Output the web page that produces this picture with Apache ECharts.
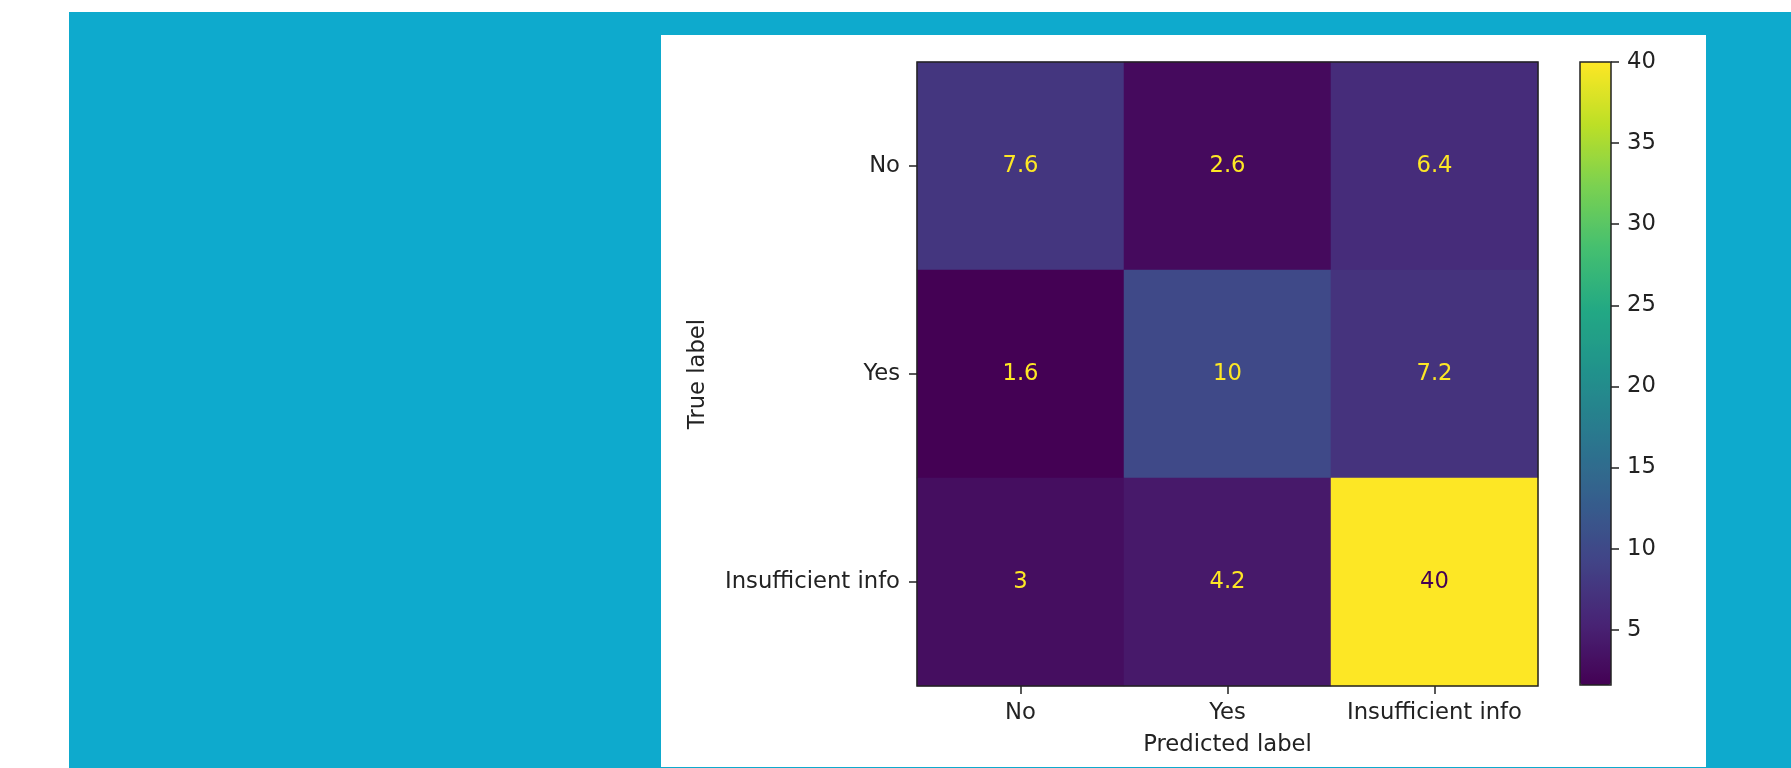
<!DOCTYPE html>
<html>
<head>
<meta charset="utf-8">
<script src="https://cdn.jsdelivr.net/npm/echarts@6/dist/echarts.min.js"></script>
<style>
    html, body { margin: 0; padding: 0; background: #fff; }
    #frame { position: absolute; left: 69px; top: 12px; right: 0; bottom: 0; background: #0eaacd; }
    #panel { position: absolute; left: 661px; top: 35px; width: 1045px; height: 732px; background: #fff; }
    #container { position: absolute; left: 0; top: 0; width: 1791px; height: 768px; }
</style>
</head>
<body>
<div id="frame"></div>
<div id="panel"></div>
<div id="container"></div>
<script>
var predictedLabels = ['No', 'Yes', 'Insufficient info'];
var trueLabels = ['No', 'Yes', 'Insufficient info'];
var rowNo = [7.6, 2.6, 6.4];
var rowYes = [1.6, 10, 7.2];
var rowInsufficient = [3, 4.2, 40];
var colorbarTicks = [5, 10, 15, 20, 25, 30, 35, 40];

var viridis = ['#440154', '#482475', '#414487', '#355f8d', '#2a788e', '#21918c',
    '#22a884', '#44bf70', '#7ad151', '#bddf26', '#fde725'];

function showMatrix() {
    var rows = [rowNo, rowYes, rowInsufficient];
    var all = rows[0].concat(rows[1], rows[2]);
    var vmin = Math.min.apply(null, all);
    var vmax = Math.max.apply(null, all);
    var thresh = (vmin + vmax) / 2;
    var cells = [];
    rows.forEach(function(row, r) {
        row.forEach(function(v, c) {
            cells.push({
                value: [c, r, v],
                label: { color: v > thresh ? viridis[0] : viridis[10] }
            });
        });
    });

    var font = 'DejaVu Sans';
    var textColor = '#222';
    var myChart = echarts.init(document.getElementById('container'));
    myChart.setOption({
        animation: false,
        backgroundColor: 'transparent',
        grid: [{
                left: 917, top: 62, width: 621, height: 624,
                show: true, z: 10,
                backgroundColor: 'transparent',
                borderColor: '#222', borderWidth: 1.5
            }, {
                left: 1580, top: 62, width: 31, height: 623,
                show: true, z: 10,
                backgroundColor: 'transparent',
                borderColor: '#222', borderWidth: 1.5
            }],
        xAxis: [{
                gridIndex: 0,
                type: 'category',
                data: predictedLabels,
                name: 'Predicted label',
                nameLocation: 'middle',
                nameGap: 48,
                nameTextStyle: { fontFamily: font, fontSize: 22.7, color: textColor },
                axisLine: { show: false },
                axisTick: { show: true, alignWithLabel: true, length: 8, lineStyle: { color: textColor, width: 1.5 } },
                axisLabel: { interval: 0, hideOverlap: false, margin: 16, fontFamily: font, fontSize: 22.7, color: textColor },
                splitLine: { show: false }
            }, {
                gridIndex: 1,
                type: 'category',
                data: [''],
                show: false
            }],
        yAxis: [{
                gridIndex: 0,
                type: 'category',
                data: trueLabels,
                inverse: true,
                name: 'True label',
                nameLocation: 'middle',
                nameGap: 207,
                nameTextStyle: { fontFamily: font, fontSize: 22.7, color: textColor },
                axisLine: { show: false },
                axisTick: { show: true, alignWithLabel: true, length: 8, lineStyle: { color: textColor, width: 1.5 } },
                axisLabel: { interval: 0, hideOverlap: false, margin: 17, fontFamily: font, fontSize: 22.7, color: textColor },
                splitLine: { show: false }
            }, {
                gridIndex: 1,
                type: 'value',
                position: 'right',
                min: vmin,
                max: vmax,
                axisLine: { show: false },
                axisTick: { show: true, length: 8, customValues: colorbarTicks, lineStyle: { color: textColor, width: 1.5 } },
                axisLabel: { margin: 16, customValues: colorbarTicks, fontFamily: font, fontSize: 22.7, color: textColor },
                splitLine: { show: false }
            }],
        visualMap: {
            type: 'continuous',
            seriesIndex: 0,
            min: vmin,
            max: vmax,
            calculable: false,
            left: 1580,
            top: 62,
            padding: 0,
            itemWidth: 31,
            itemHeight: 623,
            text: null,
            inRange: { color: viridis }
        },
        series: [{
                type: 'heatmap',
                xAxisIndex: 0,
                yAxisIndex: 0,
                data: cells,
                label: {
                    show: true,
                    fontFamily: font,
                    fontSize: 22.7,
                    formatter: function(p) { return String(p.value[2]); }
                },
                emphasis: { disabled: true }
            }]
    });
    return myChart;
}

showMatrix();
</script>
</body>
</html>
